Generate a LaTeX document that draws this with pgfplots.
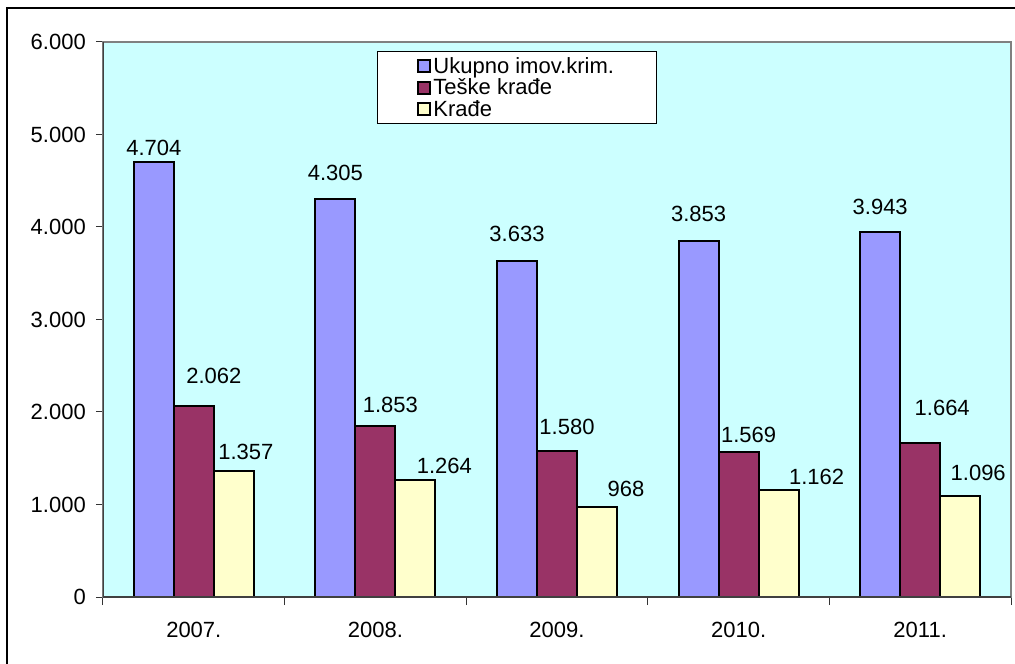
\documentclass[border=0pt]{standalone}
\usepackage{pgfplots}
\pgfplotsset{compat=1.18}
\usepackage{pgfplotstable}
\usepackage{fontspec}
\setmainfont{Liberation Sans}

\definecolor{plotbg}{HTML}{CCFFFF}
\definecolor{barblue}{HTML}{9999FF}
\definecolor{barred}{HTML}{993366}
\definecolor{baryel}{HTML}{FFFFCC}
\newcommand{\chartfont}{\fontsize{22bp}{25bp}\selectfont}

% x = year index, y = value, dx/dy = label offset (bp)
\pgfplotstableread{
x y dx dy
0 4704 0 5
1 4305 0 17
2 3633 0 18
3 3853 0 18
4 3943 0 17
}\ukupno
\pgfplotstableread{
x y dx dy
0 2062 20 22
1 1853 15 12
2 1580 10 15
3 1569 10 8
4 1664 22 26
}\teske
\pgfplotstableread{
x y dx dy
0 1357 12 11
1 1264 29 5
2 968 29 10
3 1162 38 4
4 1096 18 14
}\krade

\begin{document}
\begin{tikzpicture}[font=\chartfont]
\useasboundingbox (-103bp,-67bp) rectangle (912bp,597bp);
\draw[line width=1.5bp] (-96bp,-80bp) -- (-96bp,589bp) -- (930bp,589bp);
\begin{axis}[
    scale only axis,
    width=908bp, height=555bp,
    xmin=-0.5, xmax=4.5,
    ymin=0, ymax=6000,
    axis background/.style={fill=plotbg},
    axis line style={draw=black!50, line width=1.5bp},
    xtick={0,1,2,3,4},
    xticklabels={2007.,2008.,2009.,2010.,2011.},
    minor xtick={-0.5,0.5,1.5,2.5,3.5,4.5},
    major x tick style={draw=none},
    minor tick length=8bp,
    major tick length=7bp,
    tick align=outside,
    xtick pos=bottom, ytick pos=left,
    ytick={0,1000,...,6000},
    tick style={black!80, line width=1bp},
    tick label style={font=\chartfont, inner sep=0pt},
    xticklabel style={yshift=-18bp},
    yticklabel style={xshift=-10bp},
    /pgf/number format/.cd, fixed, precision=0, 1000 sep={.}, assume math mode=true,
    /pgfplots/.cd,
    ybar, bar width=40bp,
    every axis plot/.append style={draw=black, line width=2bp},
    visualization depends on={\thisrow{dx} \as \dx},
    visualization depends on={\thisrow{dy} \as \dy},
    nodes near coords,
    every node near coord/.append style={font=\chartfont, text=black, inner sep=0pt, anchor=south, xshift=\dx bp, yshift=\dy bp},
    legend style={at={(0.3018,0.9838)}, anchor=north west, draw=black, line width=0.8bp, fill=white,
        font=\chartfont, inner xsep=40bp, inner ysep=4bp, row sep=0bp, cells={anchor=west}},
    legend image code/.code={\draw[#1, draw=black, line width=2bp] (1bp,-6bp) rectangle (13bp,6bp);},
]
\addplot[fill=barblue, bar shift=-40bp] table[x=x, y=y] {\ukupno};
\addlegendentry{Ukupno imov.krim.}
\addplot[fill=barred, bar shift=0bp] table[x=x, y=y] {\teske};
\addlegendentry{Teške krađe}
\addplot[fill=baryel, bar shift=40bp] table[x=x, y=y] {\krade};
\addlegendentry{Krađe}
\draw[black!75, line width=1.5bp] (rel axis cs:0,1) -- (rel axis cs:0,0) -- (rel axis cs:1,0);
\end{axis}
\end{tikzpicture}
\end{document}
